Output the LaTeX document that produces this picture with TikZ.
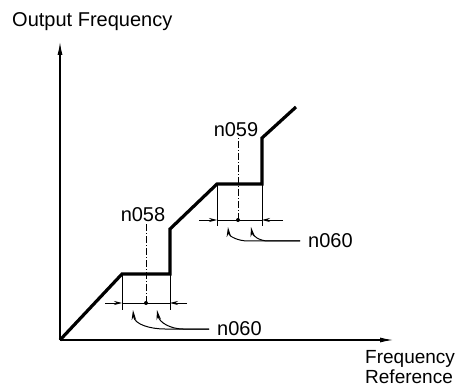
\documentclass[tikz,border=0pt]{standalone}
\usepackage{fontspec}
\setmainfont{Liberation Sans}
\usetikzlibrary{arrows.meta,positioning}

\begin{document}
\begin{tikzpicture}[x=1pt, y=1pt,
    txt/.style={font=\fontsize{20}{18}\selectfont, inner sep=0pt},
    axlab/.style={font=\fontsize{19}{18}\selectfont, inner sep=0pt, anchor=base west},
    guide/.style={line width=0.8pt},
    centre/.style={guide, dash pattern=on 7pt off 2pt on 1pt off 2pt},
    dimtip/.style={guide, -{Stealth[length=8pt, width=4pt]}},
    hook/.style={line width=1pt, {Stealth[length=10pt, width=4.5pt]}-, shorten >=8pt},
    ramp/.style={line width=3.2pt, line join=miter}]
  \useasboundingbox (0,0) rectangle (458,386);
  % axes
  \coordinate (o) at (60,46);
  \coordinate (ytip) at (60,344);
  \coordinate (xtip) at (393,46);
  \draw[line width=1.1pt, -{Latex[length=13pt, width=5pt]}] (o) -- (ytip);
  \draw[line width=1.1pt, -{Latex[length=13pt, width=5pt]}] (o) -- (xtip);
  \node[txt, anchor=base west] (ylab) at (12,359) {Output Frequency};
  \node[axlab] (xlab) at (365,23) {Frequency};
  \node[axlab] (xlab2) at (365,3) {Reference};
  % output curve with the two jump zones
  \draw[ramp] (o) -- (122,112) -- (170,112) -- (170,157) -- (217,202) -- (262,202) -- (262,248) -- (296,279);
  % first jump
  \node[txt, anchor=base] (n58) at (143,164) {n058};
  \coordinate (d1) at (146,83);
  \draw[guide] (122,112) -- (122,76);
  \draw[guide] (170,112) -- (170,76);
  \draw[centre] (d1) -- (d1 |- n58.south);
  \draw[guide] (122,83) -- (170,83);
  \draw[dimtip] (105,83) -- (122,83);
  \draw[dimtip] (187,83) -- (170,83);
  \fill (d1) circle (2pt);
  \node[txt, anchor=west] (n60a) at (217,57) {n060};
  \draw[hook] (133,76) to[out=-85, in=180] (165,57) -- (n60a.west);
  \draw[hook] (157,76) to[out=-80, in=180] (183,57) -- (n60a.west);
  % second jump
  \node[txt, anchor=base] (n59) at (236,249) {n059};
  \coordinate (d2) at (238,166);
  \draw[guide] (217,202) -- (217,160);
  \draw[guide] (262,202) -- (262,160);
  \draw[centre] (d2) -- (d2 |- n59.south);
  \draw[guide] (217,166) -- (262,166);
  \draw[dimtip] (199,166) -- (217,166);
  \draw[dimtip] (283,166) -- (262,166);
  \fill (d2) circle (2pt);
  \node[txt, anchor=west] (n60b) at (308,145) {n060};
  \draw[hook] (228,159) to[out=-85, in=180] (248,145) -- (n60b.west);
  \draw[hook] (251,159) to[out=-80, in=180] (268,145) -- (n60b.west);
\end{tikzpicture}
\end{document}
